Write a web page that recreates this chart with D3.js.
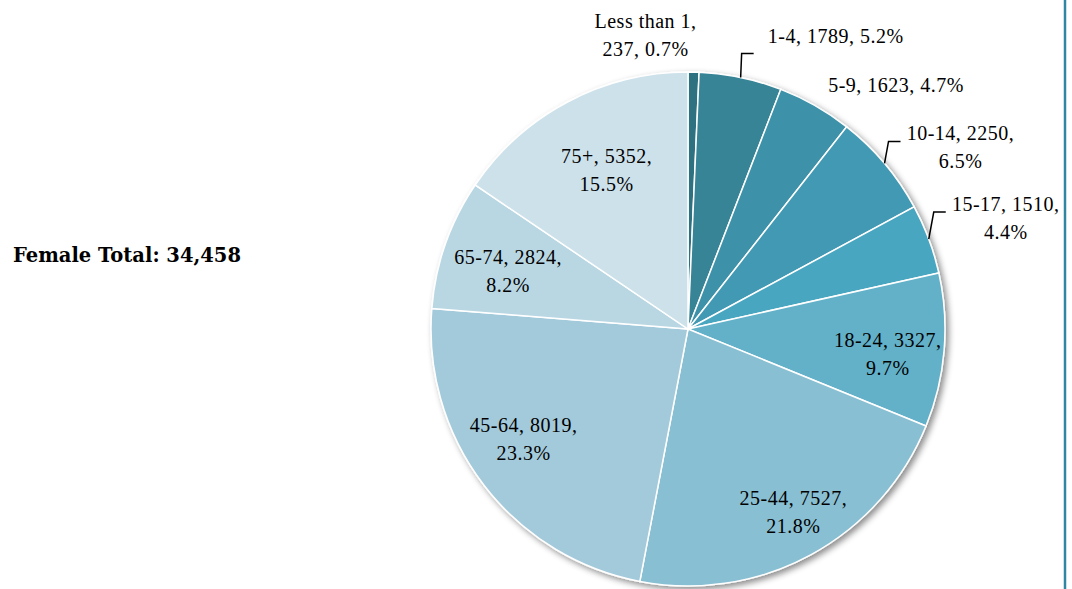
<!DOCTYPE html>
<html>
<head>
<meta charset="utf-8">
<script src="https://cdn.jsdelivr.net/npm/d3@7"></script>
<style>
  body { margin: 0; background: #fff; }
  text { font-family: "Liberation Serif", "DejaVu Serif", serif; }
</style>
</head>
<body>
<div id="pie-chart"></div>
<script>
// age groups and counts (female)
const categories = ["Less than 1", "1-4", "5-9", "10-14", "15-17", "18-24", "25-44", "45-64", "65-74", "75+"];
const counts = [237, 1789, 1623, 2250, 1510, 3327, 7527, 8019, 2824, 5352];
const percents = ["0.7%", "5.2%", "4.7%", "6.5%", "4.4%", "9.7%", "21.8%", "23.3%", "8.2%", "15.5%"];
const labelLines = [
  ["Less than 1,", "237, 0.7%"],
  ["1-4, 1789, 5.2%"],
  ["5-9, 1623, 4.7%"],
  ["10-14, 2250,", "6.5%"],
  ["15-17, 1510,", "4.4%"],
  ["18-24, 3327,", "9.7%"],
  ["25-44, 7527,", "21.8%"],
  ["45-64, 8019,", "23.3%"],
  ["65-74, 2824,", "8.2%"],
  ["75+, 5352,", "15.5%"]
];
const colors = ["#2f7282", "#378497", "#3c91a8", "#4399b3", "#49a6c0", "#62b1c9", "#89bfd2", "#a3cadb", "#b9d7e3", "#cde1ea"];
const title = "Female Total: 34,458";

// label placement: inside labels use a radius fraction, outside ones an offset from the rim
const labelLayout = [
  {out: true, dx: -48, dy: -37},
  {out: true, dx: 95, dy: -41, leader: [1, -24]},
  {out: true, dx: 81, dy: -21},
  {out: true, dx: 76, dy: -16, leader: [4, -22]},
  {out: true, dx: 77, dy: -21, leader: [5, -27]},
  {k: 0.78, dy: 8},
  {k: 0.81, dx: 6},
  {k: 0.76, dx: -9, dy: -8},
  {k: 0.68, dx: -15},
  {k: 0.70, dx: 3}
];

const width = 1072, height = 589;
const cx = 688, cy = 329, radius = 257;
const lineH = 28;

let svg = d3.select("#pie-chart")
  .append("svg")
  .attr("width", width)
  .attr("height", height);

let defs = svg.append("defs");
let shadow = defs.append("filter")
  .attr("id", "shadow")
  .attr("x", "-10%").attr("y", "-10%")
  .attr("width", "125%").attr("height", "125%");
shadow.append("feDropShadow")
  .attr("dx", 3).attr("dy", 3)
  .attr("stdDeviation", 3)
  .attr("flood-color", "#000")
  .attr("flood-opacity", 0.45);

// right border line
svg.append("line")
  .attr("x1", 1065).attr("x2", 1065)
  .attr("y1", 0).attr("y2", height)
  .attr("stroke", "#2e86a0")
  .attr("stroke-width", 2.5);

// title
svg.append("text")
  .attr("x", 13)
  .attr("y", 255)
  .attr("dominant-baseline", "central")
  .style("font-family", "'DejaVu Serif', serif")
  .attr("font-size", "19.5px")
  .attr("font-weight", "bold")
  .attr("fill", "#000")
  .text(title);

const data = categories.map((c, i) => ({name: c, value: counts[i], pct: percents[i], lines: labelLines[i], idx: i}));

let pie = d3.pie().sort(null).value(d => d.value);
let arcs = pie(data);
let arc = d3.arc().innerRadius(0).outerRadius(radius);

let g = svg.append("g").attr("transform", "translate(" + cx + "," + cy + ")");

g.append("g")
  .attr("filter", "url(#shadow)")
  .selectAll("path")
  .data(arcs)
  .enter()
  .append("path")
    .attr("d", arc)
    .attr("fill", d => colors[d.data.idx])
    .attr("stroke", "#fff")
    .attr("stroke-width", 1.5);

// labels
arcs.forEach(function(d) {
  const lay = labelLayout[d.data.idx];
  const mid = (d.startAngle + d.endAngle) / 2;
  let px, py;
  if (lay.out) {
    const rx = radius * Math.sin(mid), ry = -radius * Math.cos(mid);
    px = rx + lay.dx;
    py = ry + lay.dy;
    if (lay.leader) {
      const ex = rx + lay.leader[0], ey = ry + lay.leader[1];
      g.append("path")
        .attr("d", d3.line()([[rx, ry], [ex, ey], [ex + 12, ey]]))
        .attr("fill", "none")
        .attr("stroke", "#000")
        .attr("stroke-width", 1.5);
    }
  } else {
    const c = d3.arc().innerRadius(0).outerRadius(2 * radius * lay.k).centroid(d);
    px = c[0] + (lay.dx || 0);
    py = c[1] + (lay.dy || 0);
  }
  const lines = d.data.lines;
  const t = g.append("text")
    .attr("text-anchor", "middle")
    .attr("font-size", "20px")
    .attr("letter-spacing", "0.5px")
    .attr("fill", "#000");
  lines.forEach(function(line, j) {
    t.append("tspan")
      .attr("x", px)
      .attr("y", py + (j - (lines.length - 1) / 2) * lineH)
      .attr("dominant-baseline", "central")
      .text(line);
  });
});
</script>
</body>
</html>
